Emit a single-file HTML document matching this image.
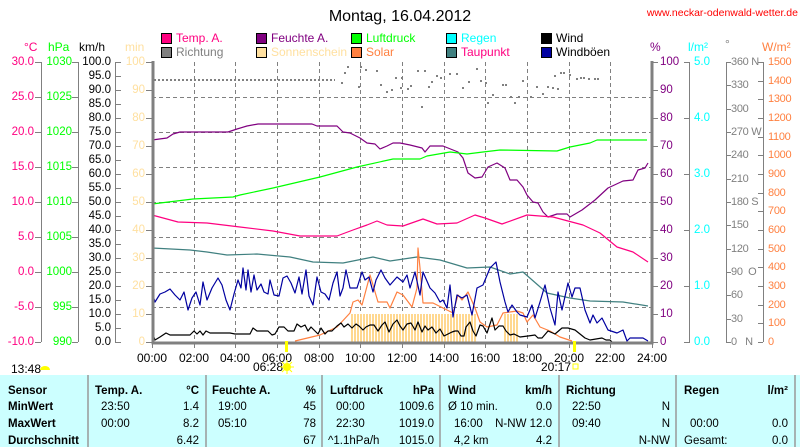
<!DOCTYPE html>
<html><head><meta charset="utf-8"><style>
html,body{margin:0;padding:0;background:#fff;width:800px;height:447px;overflow:hidden}
svg{display:block;font-family:"Liberation Sans",sans-serif}
.t{font-size:12px}
.a{font-size:11.5px}
.r{font-size:11px;letter-spacing:-0.3px}
.tb{font-size:11.5px;font-weight:bold}
.tn{font-size:11.5px}
</style></head><body>
<svg width="800" height="447" viewBox="0 0 800 447" xmlns="http://www.w3.org/2000/svg">
<defs>
<pattern id="sun" x="0" y="0" width="3" height="10" patternUnits="userSpaceOnUse"><rect x="0" y="0" width="2" height="10" fill="#ffd890"/></pattern>
</defs>
<rect width="800" height="447" fill="#fff"/>
<text x="400" y="21" font-size="16" text-anchor="middle">Montag, 16.04.2012</text>
<text x="798" y="16" font-size="10.5" fill="#ff0000" text-anchor="end">www.neckar-odenwald-wetter.de</text>

<g class="t">
<rect x="161.5" y="33.5" width="10" height="10" fill="#ff0080" stroke="#000"/><text x="176" y="42" fill="#ff0080">Temp. A.</text>
<rect x="256.5" y="33.5" width="10" height="10" fill="#800080" stroke="#000"/><text x="271" y="42" fill="#800080">Feuchte A.</text>
<rect x="351.5" y="33.5" width="10" height="10" fill="#00ff00" stroke="#000"/><text x="366" y="42" fill="#00ff00">Luftdruck</text>
<rect x="446.5" y="33.5" width="10" height="10" fill="#00ffff" stroke="#000"/><text x="461" y="42" fill="#00ffff">Regen</text>
<rect x="541.5" y="33.5" width="10" height="10" fill="#000" stroke="#000"/><text x="556" y="42" fill="#000">Wind</text>
<rect x="161.5" y="47.5" width="10" height="10" fill="#808080" stroke="#000"/><text x="176" y="56" fill="#808080">Richtung</text>
<rect x="256.5" y="47.5" width="10" height="10" fill="#ffe0a0" stroke="#000"/><text x="271" y="56" fill="#ffe0a0">Sonnenschein</text>
<rect x="351.5" y="47.5" width="10" height="10" fill="#ff8040" stroke="#000"/><text x="366" y="56" fill="#ff8040">Solar</text>
<rect x="446.5" y="47.5" width="10" height="10" fill="#408080" stroke="#000"/><text x="461" y="56" fill="#ff0080">Taupunkt</text>
<rect x="541.5" y="47.5" width="10" height="10" fill="#0000a0" stroke="#000"/><text x="556" y="56" fill="#000">Windböen</text>
</g>

<g class="t">
<text x="24" y="51" fill="#ff0080">°C</text>
<text x="48" y="51" fill="#00ff00">hPa</text>
<text x="79" y="51" fill="#000">km/h</text>
<text x="125" y="51" fill="#ffe0a0">min</text>
<text x="650" y="51" fill="#800080">%</text>
<text x="688" y="51" fill="#00ffff">l/m²</text>
<text x="725" y="48" fill="#808080">°</text>
<text x="762" y="51" fill="#ff8040">W/m²</text>
</g>

<g stroke="#808080" stroke-width="1">
<line x1="41.5" y1="62" x2="41.5" y2="342"/>
<line x1="78.5" y1="62" x2="78.5" y2="342"/>
<line x1="115.5" y1="62" x2="115.5" y2="342"/>
<line x1="726.5" y1="62" x2="726.5" y2="342"/>
<line x1="763.5" y1="62" x2="763.5" y2="342"/>
<line x1="689.5" y1="62" x2="689.5" y2="342"/>
</g>
<g dominant-baseline="central">
<g class="a" fill="#ff0080" text-anchor="end">
<text x="34" y="62">30.0</text><text x="34" y="97">25.0</text><text x="34" y="132">20.0</text><text x="34" y="167">15.0</text><text x="34" y="202">10.0</text><text x="34" y="237">5.0</text><text x="34" y="272">0.0</text><text x="34" y="307">-5.0</text><text x="34" y="342">-10.0</text>
</g>
<g class="a" fill="#00ff00" text-anchor="end">
<text x="72" y="62">1030</text><text x="72" y="97">1025</text><text x="72" y="132">1020</text><text x="72" y="167">1015</text><text x="72" y="202">1010</text><text x="72" y="237">1005</text><text x="72" y="272">1000</text><text x="72" y="307">995</text><text x="72" y="342">990</text>
</g>
<g class="a" fill="#000" text-anchor="end">
<text x="111" y="62">100.0</text><text x="111" y="76">95.0</text><text x="111" y="90">90.0</text><text x="111" y="104">85.0</text><text x="111" y="118">80.0</text><text x="111" y="132">75.0</text><text x="111" y="146">70.0</text><text x="111" y="160">65.0</text><text x="111" y="174">60.0</text><text x="111" y="188">55.0</text><text x="111" y="202">50.0</text><text x="111" y="216">45.0</text><text x="111" y="230">40.0</text><text x="111" y="244">35.0</text><text x="111" y="258">30.0</text><text x="111" y="272">25.0</text><text x="111" y="286">20.0</text><text x="111" y="300">15.0</text><text x="111" y="314">10.0</text><text x="111" y="328">5.0</text><text x="111" y="342">0.0</text>
</g>
<g class="a" fill="#ffe0a0" text-anchor="end">
<text x="145" y="62">100</text><text x="145" y="90">90</text><text x="145" y="118">80</text><text x="145" y="146">70</text><text x="145" y="174">60</text><text x="145" y="202">50</text><text x="145" y="230">40</text><text x="145" y="258">30</text><text x="145" y="286">20</text><text x="145" y="314">10</text><text x="145" y="342">0</text>
</g>
<g class="a" fill="#800080">
<text x="660" y="62">100</text><text x="660" y="90">90</text><text x="660" y="118">80</text><text x="660" y="146">70</text><text x="660" y="174">60</text><text x="660" y="202">50</text><text x="660" y="230">40</text><text x="660" y="258">30</text><text x="660" y="286">20</text><text x="660" y="314">10</text><text x="660" y="342">0</text>
</g>
<g class="a" fill="#00ffff">
<text x="694" y="62">5.0</text><text x="694" y="118">4.0</text><text x="694" y="174">3.0</text><text x="694" y="230">2.0</text><text x="694" y="286">1.0</text><text x="694" y="342">0.0</text>
</g>
<g class="r" fill="#808080">
<text x="731" y="62">360 N</text><text x="731" y="85">330</text><text x="731" y="109">300</text><text x="731" y="132">270 W</text><text x="731" y="155">240</text><text x="731" y="179">210</text><text x="731" y="202">180 S</text><text x="731" y="225">150</text><text x="731" y="249">120</text><text x="731" y="272">90&#160;&#160;O</text><text x="731" y="295">60</text><text x="731" y="319">30</text><text x="731" y="342">0&#160;&#160;&#160;N</text>
</g>
<g class="r" fill="#ff8040">
<text x="768" y="62">1500</text><text x="768" y="81">1400</text><text x="768" y="99">1300</text><text x="768" y="118">1200</text><text x="768" y="137">1100</text><text x="768" y="155">1000</text><text x="768" y="174">900</text><text x="768" y="193">800</text><text x="768" y="211">700</text><text x="768" y="230">600</text><text x="768" y="249">500</text><text x="768" y="267">400</text><text x="768" y="286">300</text><text x="768" y="305">200</text><text x="768" y="323">100</text><text x="768" y="342">0</text>
</g>
</g>
<g stroke="#808080">
<path d="M35 62.5h6M35 97.5h6M35 132.5h6M35 167.5h6M35 202.5h6M35 237.5h6M35 272.5h6M35 307.5h6M35 342.5h6"/>
<path d="M72 62.5h6M72 97.5h6M72 132.5h6M72 167.5h6M72 202.5h6M72 237.5h6M72 272.5h6M72 307.5h6M72 342.5h6"/>
<path d="M115 62.5h6M115 76.5h6M115 90.5h6M115 104.5h6M115 118.5h6M115 132.5h6M115 146.5h6M115 160.5h6M115 174.5h6M115 188.5h6M115 202.5h6M115 216.5h6M115 230.5h6M115 244.5h6M115 258.5h6M115 272.5h6M115 286.5h6M115 300.5h6M115 314.5h6M115 328.5h6M115 342.5h6"/>
<path d="M146 62.5h6M146 90.5h6M146 118.5h6M146 146.5h6M146 174.5h6M146 202.5h6M146 230.5h6M146 258.5h6M146 286.5h6M146 314.5h6M146 342.5h6"/>
<path d="M652 62.5h6M652 90.5h6M652 118.5h6M652 146.5h6M652 174.5h6M652 202.5h6M652 230.5h6M652 258.5h6M652 286.5h6M652 314.5h6M652 342.5h6"/>
<path d="M684 62.5h6M684 118.5h6M684 174.5h6M684 230.5h6M684 286.5h6M684 342.5h6"/>
<path d="M726 62.5h5M726 85.5h5M726 109.5h5M726 132.5h5M726 155.5h5M726 179.5h5M726 202.5h5M726 225.5h5M726 249.5h5M726 272.5h5M726 295.5h5M726 319.5h5M726 342.5h5"/>
<path d="M758 62.5h5M758 81.5h5M758 99.5h5M758 118.5h5M758 137.5h5M758 155.5h5M758 174.5h5M758 193.5h5M758 211.5h5M758 230.5h5M758 249.5h5M758 267.5h5M758 286.5h5M758 305.5h5M758 323.5h5M758 342.5h5"/>
<path d="M152.5 342v6M194.5 342v6M235.5 342v6M277.5 342v6M319.5 342v6M360.5 342v6M402.5 342v6M444.5 342v6M485.5 342v6M527.5 342v6M569.5 342v6M610.5 342v6M652.5 342v6"/>
</g>

<g stroke="#808080" stroke-dasharray="4,3" stroke-width="1">
<path d="M152 97.5H652M152 132.5H652M152 167.5H652M152 202.5H652M152 237.5H652M152 272.5H652M152 307.5H652"/>
<path d="M194.5 62V342M235.5 62V342M277.5 62V342M319.5 62V342M360.5 62V342M402.5 62V342M444.5 62V342M485.5 62V342M527.5 62V342M569.5 62V342M610.5 62V342"/>
</g>

<rect x="351" y="314" width="125" height="28" fill="url(#sun)"/>
<rect x="503" y="314" width="15" height="28" fill="url(#sun)"/>

<line x1="154" y1="80" x2="335" y2="80" stroke="#808080" stroke-width="2" stroke-dasharray="2,2"/>
<g fill="#808080">
<rect x="341" y="82" width="2" height="2"/><rect x="344" y="72" width="2" height="2"/><rect x="347" y="66" width="2" height="2"/><rect x="358" y="86" width="2" height="2"/><rect x="360" y="66" width="2" height="2"/><rect x="365" y="69" width="2" height="2"/><rect x="376" y="70" width="2" height="2"/><rect x="380" y="84" width="2" height="2"/><rect x="386" y="91" width="2" height="2"/><rect x="391" y="89" width="2" height="2"/><rect x="395" y="77" width="2" height="2"/><rect x="400" y="87" width="2" height="2"/><rect x="401" y="77" width="2" height="2"/><rect x="407" y="88" width="2" height="2"/><rect x="410" y="85" width="2" height="2"/><rect x="417" y="70" width="2" height="2"/><rect x="424" y="70" width="2" height="2"/><rect x="421" y="106" width="2" height="2"/><rect x="428" y="86" width="2" height="2"/><rect x="431" y="81" width="2" height="2"/><rect x="436" y="75" width="2" height="2"/><rect x="440" y="77" width="2" height="2"/><rect x="449" y="73" width="2" height="2"/><rect x="456" y="73" width="2" height="2"/><rect x="462" y="87" width="2" height="2"/><rect x="468" y="81" width="2" height="2"/><rect x="476" y="68" width="2" height="2"/><rect x="480" y="80" width="2" height="2"/><rect x="485" y="82" width="2" height="2"/><rect x="487" y="102" width="2" height="2"/><rect x="492" y="94" width="2" height="2"/><rect x="502" y="84" width="2" height="2"/><rect x="505" y="84" width="2" height="2"/><rect x="510" y="96" width="2" height="2"/><rect x="514" y="102" width="2" height="2"/><rect x="518" y="96" width="2" height="2"/><rect x="522" y="80" width="2" height="2"/><rect x="530" y="96" width="2" height="2"/><rect x="536" y="86" width="2" height="2"/><rect x="542" y="93" width="2" height="2"/><rect x="547" y="86" width="2" height="2"/><rect x="552" y="87" width="2" height="2"/><rect x="554" y="75" width="2" height="2"/><rect x="557" y="88" width="2" height="2"/><rect x="560" y="72" width="2" height="2"/><rect x="563" y="72" width="2" height="2"/><rect x="569" y="74" width="2" height="2"/><rect x="576" y="78" width="2" height="2"/><rect x="580" y="77" width="2" height="2"/><rect x="583" y="77" width="2" height="2"/><rect x="588" y="78" width="2" height="2"/><rect x="594" y="78" width="2" height="2"/><rect x="597" y="78" width="2" height="2"/>
</g>

<g fill="none" stroke-width="1.2" stroke-linejoin="round">
<polyline stroke="#800080" points="152,140 167,138 173,134 180,132 228,132 237,129 247,126 258,124 312,124 317,126 337,126 343,132 350,133 360,138 367,143 375,144 380,149 387,146 393,143 400,143 410,145 422,148 425,152 430,146 443,146 458,152 463,158 468,173 475,178 482,177 488,167 497,163 505,168 510,180 517,180 523,187 527,195 533,202 538,203 543,212 548,217 557,214 567,214 570,217 582,210 595,200 608,188 623,181 633,180 638,170 645,168 648,163"/>
<polyline stroke="#00ff00" points="152,204 193,199 233,197 240,195 273,188 320,177 357,167 393,159 420,159 427,156 450,152 467,154 483,152 500,150 557,151 570,147 590,143 597,140 647,140"/>
<polyline stroke="#ff0080" points="152,215 178,222 207,223 240,227 273,231 300,236 337,236 353,230 367,225 377,221 387,225 403,226 423,219 437,224 457,223 475,215 485,218 502,224 527,215 553,217 583,225 600,233 617,247 633,252 648,262"/>
<polyline stroke="#408080" points="152,248 190,250 207,252 227,255 257,254 290,257 313,262 343,263 373,257 390,261 417,257 440,260 467,268 490,267 510,274 523,272 547,293 570,298 590,301 623,302 648,306"/>
<polyline stroke="#ff8040" points="295,341 320,335 337,327 350,313 353,302 358,300 362,305 370,275 373,285 378,302 387,302 390,308 397,292 403,295 412,307 417,288 418,248 420,268 423,303 433,303 443,308 453,313 458,295 462,300 468,292 475,308 480,322 487,327 497,325 503,313 517,311 523,313 527,322 533,315 540,327 550,331 560,337 572,341"/>
<polyline stroke="#0000a0" points="152,292 155,302 160,294 165,292 170,289 175,295 180,300 184,292 188,310 192,298 196,292 200,305 203,282 207,300 212,288 218,278 222,285 226,300 230,310 234,294 238,280 241,288 243,268 246,290 248,270 251,292 254,275 257,290 261,284 264,292 268,294 270,280 274,295 279,296 283,278 287,276 291,283 295,293 299,277 302,294 306,270 309,296 313,305 317,277 321,292 325,294 329,300 333,283 337,272 340,296 343,288 346,270 350,288 357,288 362,272 365,280 369,277 373,292 376,280 381,270 385,278 390,285 397,277 403,282 407,275 410,288 415,272 420,295 423,272 430,288 435,293 440,302 443,300 447,308 450,285 453,317 457,295 462,298 467,295 472,315 477,288 483,285 490,268 496,262 500,282 505,302 508,312 512,305 517,312 520,315 527,317 532,305 535,318 540,302 545,285 550,308 555,325 558,292 562,310 568,283 572,297 575,288 580,288 585,310 590,323 593,315 597,323 602,318 608,330 617,333 623,330 627,341 630,338 643,338 648,341"/>
<polyline stroke="#000" points="152,332 155,340 160,337 166,333 170,335 180,335 190,335 194,331 197,334 200,331 203,335 206,331 210,333 216,333 222,333 230,333 235,334 245,334 250,334 253,328 257,331 264,331 268,331 272,335 275,334 279,327 284,327 288,331 294,331 297,324 301,327 305,325 308,331 311,327 315,331 318,334 321,328 325,334 328,331 332,331 337,326 341,323 344,327 348,324 352,328 356,324 359,326 363,330 366,327 370,325 374,325 378,331 382,325 385,322 389,332 393,324 397,320 400,326 403,330 407,324 411,323 415,330 418,322 422,332 425,326 428,330 432,327 436,333 440,329 444,336 448,334 452,332 455,331 458,331 461,336 464,336 466,327 470,322 473,331 476,336 480,325 483,326 487,333 492,318 495,330 499,326 503,326 506,331 510,335 514,334 520,337 528,336 535,335 538,338 542,338 548,331 555,334 562,328 568,328 575,330 580,334 585,338 590,340 596,339 602,338 606,340 610,340 612,342"/>
</g>

<path d="M153 61V343H652V61" fill="none" stroke="#808080" stroke-width="3"/>

<rect x="285" y="341" width="3" height="11" fill="#ffff00"/>
<rect x="573" y="341" width="3" height="11" fill="#ffff00"/>

<g class="t" text-anchor="middle">
<text x="152" y="362">00:00</text><text x="194" y="362">02:00</text><text x="235" y="362">04:00</text><text x="277" y="362">06:00</text><text x="319" y="362">08:00</text><text x="360" y="362">10:00</text><text x="402" y="362">12:00</text><text x="444" y="362">14:00</text><text x="485" y="362">16:00</text><text x="527" y="362">18:00</text><text x="569" y="362">20:00</text><text x="610" y="362">22:00</text><text x="652" y="362">24:00</text>
</g>
<g class="t">
<text x="11" y="373">13:48</text>
<path d="M40 370a5 4 0 0 1 10 0z" fill="#ffff00"/>
<text x="253" y="371">06:28</text>
<circle cx="287" cy="367" r="4" fill="#ffff00"/>
<path d="M280 367h14M287 360v14M282 362l10 10M292 362l-10 10" stroke="#ffff00" stroke-width="1"/>
<text x="541" y="371">20:17</text>
<rect x="573" y="364" width="5" height="5" fill="none" stroke="#ffff00"/>
</g>

<rect x="0" y="375" width="800" height="72" fill="#ccffff"/>
<g stroke="#999" stroke-width="1.5">
<line x1="88" y1="375" x2="88" y2="447"/><line x1="206" y1="375" x2="206" y2="447"/><line x1="322" y1="375" x2="322" y2="447"/><line x1="440" y1="375" x2="440" y2="447"/><line x1="559" y1="375" x2="559" y2="447"/><line x1="676" y1="375" x2="676" y2="447"/><line x1="795" y1="375" x2="795" y2="447"/>
</g>
<g class="tb">
<text x="8" y="394">Sensor</text><text x="8" y="410">MinWert</text><text x="8" y="427">MaxWert</text><text x="8" y="444">Durchschnitt</text>
<text x="95" y="394">Temp. A.</text><text x="199" y="394" text-anchor="end">°C</text>
<text x="212" y="394">Feuchte A.</text><text x="316" y="394" text-anchor="end">%</text>
<text x="330" y="394">Luftdruck</text><text x="434" y="394" text-anchor="end">hPa</text>
<text x="448" y="394">Wind</text><text x="552" y="394" text-anchor="end">km/h</text>
<text x="566" y="394">Richtung</text>
<text x="684" y="394">Regen</text><text x="788" y="394" text-anchor="end">l/m²</text>
</g>
<g class="tn">
<text x="101" y="410">23:50</text><text x="199" y="410" text-anchor="end">1.4</text>
<text x="101" y="427">00:00</text><text x="199" y="427" text-anchor="end">8.2</text>
<text x="199" y="444" text-anchor="end">6.42</text>
<text x="218" y="410">19:00</text><text x="316" y="410" text-anchor="end">45</text>
<text x="218" y="427">05:10</text><text x="316" y="427" text-anchor="end">78</text>
<text x="316" y="444" text-anchor="end">67</text>
<text x="336" y="410">00:00</text><text x="434" y="410" text-anchor="end">1009.6</text>
<text x="336" y="427">22:30</text><text x="434" y="427" text-anchor="end">1019.0</text>
<text x="328" y="444">^1.1hPa/h</text><text x="434" y="444" text-anchor="end">1015.0</text>
<text x="448" y="410">Ø 10 min.</text><text x="552" y="410" text-anchor="end">0.0</text>
<text x="454" y="427">16:00</text><text x="552" y="427" text-anchor="end">N-NW 12.0</text>
<text x="454" y="444">4,2 km</text><text x="552" y="444" text-anchor="end">4.2</text>
<text x="572" y="410">22:50</text><text x="670" y="410" text-anchor="end">N</text>
<text x="572" y="427">09:40</text><text x="670" y="427" text-anchor="end">N</text>
<text x="670" y="444" text-anchor="end">N-NW</text>
<text x="690" y="427">00:00</text><text x="788" y="427" text-anchor="end">0.0</text>
<text x="684" y="444">Gesamt:</text><text x="788" y="444" text-anchor="end">0.0</text>
</g>
</svg>
</body></html>
